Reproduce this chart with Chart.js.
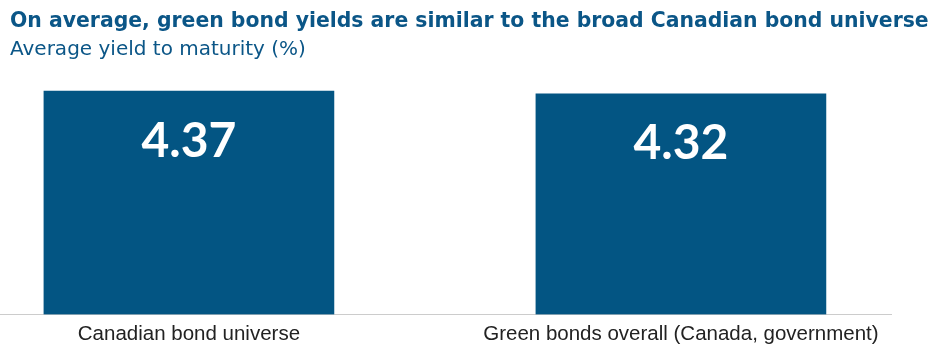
<!DOCTYPE html>
<html lang="en">
<head>
    <meta charset="UTF-8">
    <title>Green bond yields</title>
    <script src="https://cdn.jsdelivr.net/npm/chart.js"></script>
    <style>
        body {
            margin: 0;
            background: #fff;
            font-family: 'DejaVu Sans', sans-serif;
        }
        .wrap {
            position: relative;
            width: 941px;
            height: 351px;
        }
        .head {
            position: absolute;
            left: 10px;
            top: 6px;
            color: #0b5687;
            z-index: 2;
            white-space: nowrap;
        }
        .head h1 {
            margin: 0;
            font-size: 20.4px;
            font-weight: 700;
            line-height: 28px;
        }
        .head h2 {
            margin: 0;
            font-size: 20px;
            font-weight: 400;
            line-height: 29px;
        }
        canvas { position: absolute; left: 0; top: 0; }
    </style>
</head>
<body>
    <div class="wrap">
        <div class="head">
            <h1>On average, green bond yields are similar to the broad Canadian bond universe</h1>
            <h2>Average yield to maturity (%)</h2>
        </div>
        <canvas id="yieldChart" width="941" height="351"></canvas>
    </div>

    <script>
        const categories = ['Canadian bond universe', 'Green bonds overall (Canada, government)'];
        const yields = [4.37, 4.32];

        // white value labels drawn inside the top of each bar
        const valueLabels = {
            id: 'valueLabels',
            afterDatasetsDraw(chart) {
                const ctx = chart.ctx;
                const meta = chart.getDatasetMeta(0);
                ctx.save();
                ctx.fillStyle = '#fff';
                ctx.font = 'bold 48px Lato';
                ctx.textAlign = 'center';
                ctx.textBaseline = 'middle';
                meta.data.forEach((bar, i) => {
                    ctx.fillText(yields[i].toFixed(2), bar.x, bar.y + 50);
                });
                ctx.restore();
            }
        };

        new Chart(document.getElementById('yieldChart'), {
            type: 'bar',
            data: {
                datasets: [{
                    data: yields.map((v, i) => ({ x: i, y: v })),
                    backgroundColor: '#035583',
                    barThickness: 290
                }]
            },
            options: {
                responsive: false,
                animation: false,
                layout: { padding: { top: 59, right: 50, bottom: 4, left: 0 } },
                plugins: {
                    legend: { display: false },
                    tooltip: { enabled: false }
                },
                scales: {
                    x: {
                        type: 'linear',
                        offset: false,
                        min: -0.384,
                        max: 1.427,
                        grid: { display: false },
                        border: { display: true, color: '#cccccc', width: 1 },
                        afterBuildTicks: axis => { axis.ticks = categories.map((c, i) => ({ value: i })); },
                        ticks: {
                            autoSkip: false,
                            maxRotation: 0,
                            color: '#222',
                            padding: 0,
                            font: { family: 'Liberation Sans', size: 20.5 },
                            callback: v => categories[v]
                        }
                    },
                    y: {
                        display: false,
                        min: 0,
                        max: 5
                    }
                }
            },
            plugins: [valueLabels]
        });
    </script>
</body>
</html>
